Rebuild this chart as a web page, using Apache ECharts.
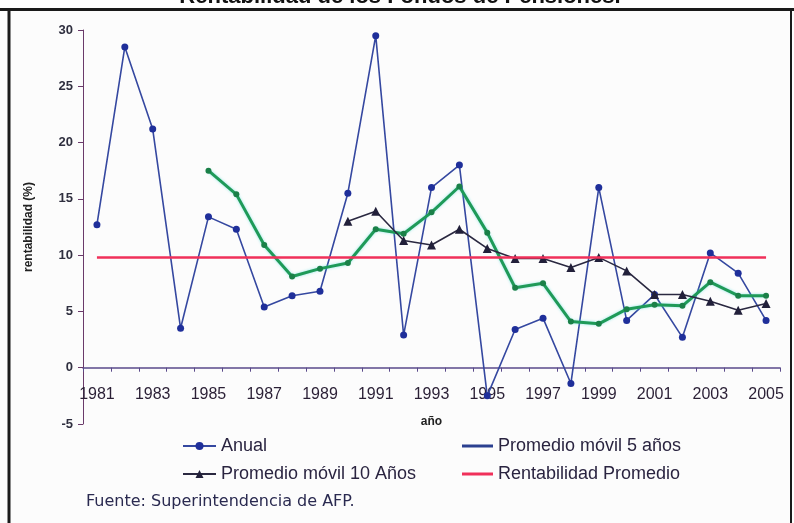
<!DOCTYPE html>
<html><head><meta charset="utf-8">
<script src="https://cdn.jsdelivr.net/npm/echarts@6/dist/echarts.min.js"></script>
<style>html,body{margin:0;padding:0;background:#fff}#c{width:794px;height:523px}</style>
</head><body><div id="c"></div>
<script>
const years = ['1981','1982','1983','1984','1985','1986','1987','1988','1989','1990','1991','1992','1993','1994','1995','1996','1997','1998','1999','2000','2001','2002','2003','2004','2005'];
const anual = [12.7,28.5,21.2,3.5,13.4,12.3,5.4,6.4,6.8,15.5,29.5,2.9,16.0,18.0,-2.5,3.4,4.4,-1.4,16.0,4.2,6.5,2.7,10.2,8.4,4.2];
const movil5 = [null,null,null,null,17.5,15.4,10.9,8.1,8.8,9.3,12.3,11.9,13.8,16.1,12.0,7.1,7.5,4.1,3.9,5.2,5.6,5.5,7.6,6.4,6.4];
const movil10 = [null,null,null,null,null,null,null,null,null,13.0,13.9,11.3,10.9,12.3,10.6,9.7,9.7,8.9,9.8,8.6,6.5,6.5,5.9,5.1,5.7];
const promedio = [9.8,9.8,9.8,9.8,9.8,9.8,9.8,9.8,9.8,9.8,9.8,9.8,9.8,9.8,9.8,9.8,9.8,9.8,9.8,9.8,9.8,9.8,9.8,9.8,9.8];
const seriesNames = ['Anual','Promedio móvil 5 años','Promedio móvil 10 Años','Rentabilidad Promedio'];
const titleText = 'Rentabilidad de los Fondos de Pensiones.';
const sourceText = 'Fuente: Superintendencia de AFP.';

const chart = echarts.init(document.getElementById('c'), null, {renderer:'canvas'});
const legendText = {fontSize:18, color:'#2a2440', fontFamily:'Liberation Sans, Arial, sans-serif'};
chart.setOption({
  animation:false,
  backgroundColor:'#ffffff',
  graphic:[
    {type:'rect', shape:{x:0,y:10,width:794,height:513}, style:{fill:'#fcfcfc'}, z:-10, silent:true},
    {type:'line', shape:{x1:0,y1:9.5,x2:794,y2:9.5}, style:{stroke:'#1a1a1a',lineWidth:3}, z:10},
    {type:'line', shape:{x1:9,y1:9,x2:9,y2:523}, style:{stroke:'#1a1a1a',lineWidth:3}, z:10},
    {type:'line', shape:{x1:791,y1:9,x2:791,y2:523}, style:{stroke:'#1a1a1a',lineWidth:2}, z:10},
    {type:'text', x:400, y:-3, style:{text:titleText, fontSize:22, fontWeight:'bold', fontFamily:'Liberation Sans, Arial, sans-serif', fill:'#111', align:'center', verticalAlign:'middle'}, z:9},
    {type:'text', x:86, y:502, style:{text:sourceText, fontSize:16, fontFamily:'DejaVu Sans, sans-serif', fill:'#2a2a50', align:'left', verticalAlign:'middle'}}
  ],
  grid:{left:83, right:14, top:30, bottom:99, containLabel:false},
  legend:[
    {data:[seriesNames[0]], left:182, top:437, padding:0, itemWidth:33, itemHeight:10, itemGap:5, textStyle:legendText},
    {data:[{name:seriesNames[1], icon:'rect', itemStyle:{color:'#2b4090'}}], left:462, top:437, padding:0, itemWidth:31, itemHeight:3, itemGap:5, textStyle:legendText},
    {data:[seriesNames[2]], left:182, top:465, padding:0, itemWidth:33, itemHeight:10, itemGap:5, textStyle:legendText},
    {data:[{name:seriesNames[3], icon:'rect', itemStyle:{color:'#f0305a'}}], left:462, top:465, padding:0, itemWidth:31, itemHeight:3, itemGap:5, textStyle:legendText}
  ],
  xAxis:{
    type:'category', data:years, boundaryGap:true,
    name:'año', nameLocation:'middle', nameGap:-8,
    nameTextStyle:{fontSize:12, fontWeight:'bold', color:'#222', fontFamily:'Liberation Sans, Arial, sans-serif'},
    axisLine:{onZero:true, lineStyle:{color:'#5a4a8a', width:1.5}},
    axisTick:{show:true, interval:0, length:4, lineStyle:{color:'#5a4a8a'}},
    axisLabel:{interval:1, margin:-37, fontSize:16, color:'#2a1f35', fontFamily:'Liberation Sans, Arial, sans-serif'},
    splitLine:{show:false}
  },
  yAxis:{
    type:'value', min:-5, max:30, interval:5,
    name:'rentabilidad (%)', nameLocation:'middle', nameGap:48,
    nameTextStyle:{fontSize:12, fontWeight:'bold', color:'#222', fontFamily:'Liberation Sans, Arial, sans-serif'},
    axisLine:{show:true, lineStyle:{color:'#6a3a6a', width:1}},
    axisTick:{show:true, length:5, lineStyle:{color:'#6a3a6a'}},
    axisLabel:{margin:10, fontSize:13, fontWeight:'bold', color:'#2f2f3f', fontFamily:'Liberation Sans, Arial, sans-serif'},
    splitLine:{show:false}
  },
  series:[
    {name:seriesNames[0], type:'line', data:anual, symbol:'circle', symbolSize:7,
     lineStyle:{color:'#3548a0', width:1.6}, itemStyle:{color:'#1f2f9a'}, z:2},
    {name:seriesNames[1], type:'line', data:movil5, symbol:'circle', symbolSize:6,
     lineStyle:{color:'#1f9a58', width:3, shadowColor:'rgba(80,220,220,0.6)', shadowBlur:3}, itemStyle:{color:'#1a8048'}, z:3},
    {name:seriesNames[2], type:'line', data:movil10, symbol:'triangle', symbolSize:9,
     lineStyle:{color:'#2a2840', width:1.6}, itemStyle:{color:'#22203a'}, z:4},
    {name:seriesNames[3], type:'line', data:promedio, symbol:'none',
     lineStyle:{color:'#f0305a', width:2.5}, itemStyle:{color:'#f0305a'}, z:5}
  ]
});
</script></body></html>
